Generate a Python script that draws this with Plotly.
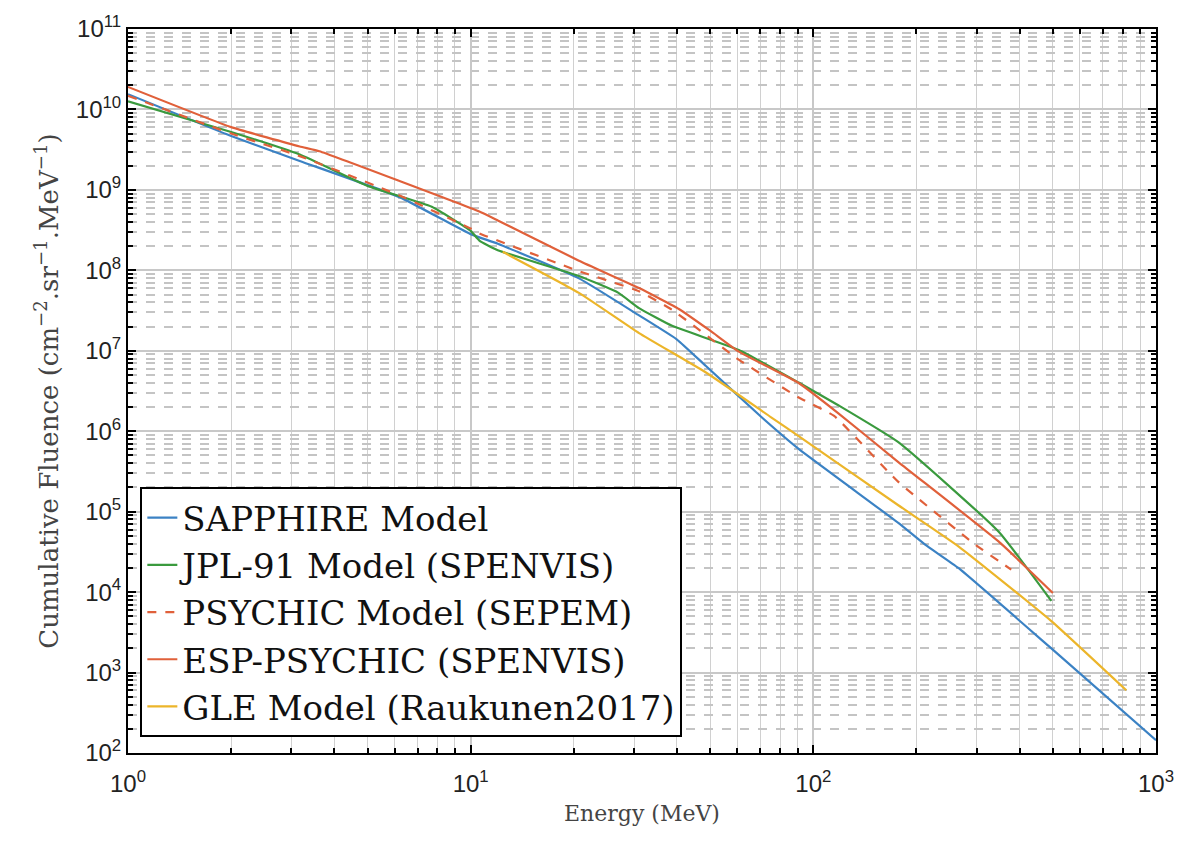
import plotly.graph_objects as go

# ---- data ----
sapphire_E = [1, 2, 3.17, 6.2, 10, 12, 20.7, 31, 40, 48.6, 70.8, 90.6, 177, 212, 265, 495, 1000]
sapphire_logF = [10.19, 9.67, 9.36, 8.91, 8.45, 8.33, 7.90, 7.44, 7.14, 6.81, 6.17, 5.78, 4.86, 4.59, 4.30, 3.30, 2.16]

jpl_E = [1, 2, 3.17, 5, 7.7, 10, 10.6, 12, 20.7, 27, 31, 38.7, 60.6, 90.6, 118.6, 177, 347, 495]
jpl_logF = [10.10, 9.72, 9.44, 9.05, 8.79, 8.49, 8.37, 8.25, 7.93, 7.72, 7.53, 7.31, 7.01, 6.605, 6.32, 5.864, 4.753, 3.89]

psychic_E = [1, 2, 3.17, 6.2, 10, 10.6, 20.7, 31, 38.7, 60.6, 90.6, 115, 177, 297, 378]
psychic_logF = [10.17, 9.70, 9.42, 8.93, 8.52, 8.46, 7.99, 7.74, 7.51, 6.89, 6.42, 6.19, 5.37, 4.59, 4.28]

esp_E = [1, 2, 3.17, 3.62, 6.2, 10.6, 12, 20.7, 31, 40.5, 50, 60.6, 90.6, 118.6, 177, 347, 500]
esp_logF = [10.28, 9.78, 9.54, 9.48, 9.11, 8.73, 8.62, 8.12, 7.78, 7.52, 7.25, 6.99, 6.60, 6.22, 5.617, 4.63, 3.99]

gle_E = [12.4, 20.7, 31, 48.6, 75.5, 90.6, 177, 265, 495, 819]
gle_logF = [8.23, 7.72, 7.22, 6.73, 6.17, 5.94, 5.08, 4.57, 3.64, 2.78]

series = [
    ("SAPPHIRE Model", sapphire_E, sapphire_logF, "#3b82c4", "solid"),
    ("JPL-91 Model (SPENVIS)", jpl_E, jpl_logF, "#3a9a3e", "solid"),
    ("PSYCHIC Model (SEPEM)", psychic_E, psychic_logF, "#e0603a", "dash"),
    ("ESP-PSYCHIC (SPENVIS)", esp_E, esp_logF, "#e0603a", "solid"),
    ("GLE Model (Raukunen2017)", gle_E, gle_logF, "#ecb52a", "solid"),
]

x_tickvals = [1, 10, 100, 1000]
x_ticktext = ["10<sup>0</sup>", "10<sup>1</sup>", "10<sup>2</sup>", "10<sup>3</sup>"]
y_exps = list(range(2, 12))
y_tickvals = [10.0 ** e for e in y_exps]
y_ticktext = ["10<sup>%d</sup>" % e for e in y_exps]

fig = go.Figure()
for name, E, lf, color, dash in series:
    fig.add_trace(go.Scatter(
        x=E, y=[10 ** v for v in lf], mode="lines", name=name,
        line=dict(color=color, width=2.2, dash=dash, shape="spline", smoothing=0.4),
    ))

x_minor = [d * 10.0 ** k for k in range(0, 3) for d in range(2, 10)]
y_minor = [d * 10.0 ** k for k in range(2, 11) for d in range(2, 10)]

serif = "DejaVu Serif, Liberation Serif, serif"
sans = "Liberation Sans, Arial, sans-serif"

fig.update_xaxes(
    type="log", range=[0, 3],
    tickvals=x_tickvals, ticktext=x_ticktext,
    tickfont=dict(family=sans, size=24, color="#222"),
    ticklabelstandoff=8,
    ticks="inside", ticklen=8, tickcolor="black", tickwidth=1.5,
    showline=True, linecolor="black", linewidth=2, mirror="allticks",
    showgrid=True, gridcolor="#c8c8c8", gridwidth=1.5,
    minor=dict(tickvals=x_minor, ticks="inside", ticklen=5, tickcolor="black",
               showgrid=True, gridcolor="#d0d0d0", gridwidth=1, griddash="solid"),
    title=dict(text="Energy (MeV)", font=dict(family=serif, size=22, color="#444"), standoff=10),
    zeroline=False,
)
fig.update_yaxes(
    type="log", range=[2, 11],
    tickvals=y_tickvals, ticktext=y_ticktext,
    tickfont=dict(family=sans, size=24, color="#222"),
    ticks="inside", ticklen=8, tickcolor="black", tickwidth=1.5,
    showline=True, linecolor="black", linewidth=2, mirror="allticks",
    showgrid=True, gridcolor="#c8c8c8", gridwidth=2,
    minor=dict(tickvals=y_minor, ticks="inside", ticklen=5, tickcolor="black",
               showgrid=True, gridcolor="#c4c4c4", gridwidth=1.5, griddash="dash"),
    title=dict(text="Cumulative Fluence (cm<sup>−2</sup>.sr<sup>−1</sup>.MeV<sup>−1</sup>)",
               font=dict(family=serif, size=26, color="#444"), standoff=10),
    zeroline=False,
)

fig.update_layout(
    width=1186, height=851,
    margin=dict(l=128, r=28, t=24, b=98),
    paper_bgcolor="white", plot_bgcolor="white",
    legend=dict(
        x=0.012, y=0.022, xanchor="left", yanchor="bottom",
        bgcolor="white", bordercolor="black", borderwidth=2,
        font=dict(family=serif, size=34, color="#111"),
        itemwidth=30, tracegroupgap=0,
    ),
)

fig.write_html("out.html")
